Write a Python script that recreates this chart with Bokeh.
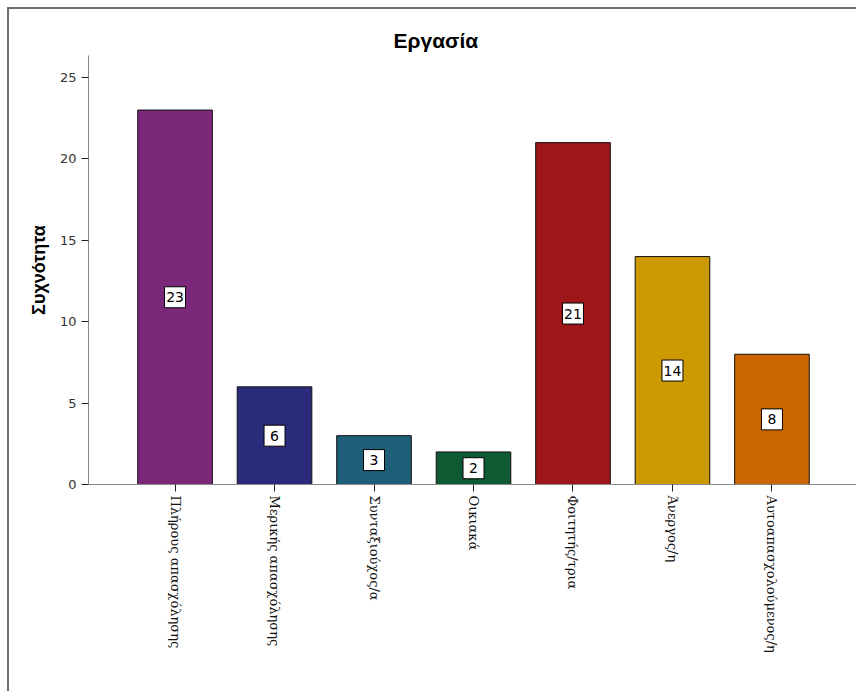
import math
from bokeh.plotting import figure
from bokeh.models import ColumnDataSource, FactorRange, Range1d, FixedTicker, Title
from bokeh.core.properties import value
from bokeh.embed import file_html
from bokeh.resources import INLINE

categories = ["Πλήρους απασχόλησης", "Μερικής απασχόλησης", "Συνταξιούχος/α", "Οικιακά",
              "Φοιτητής/τρια", "Άνεργος/η", "Αυτοαπασχολούμενος/η"]
counts = [23, 6, 3, 2, 21, 14, 8]
colors = ["#7B287B", "#2A2B7A", "#1E5E78", "#0D5A33", "#9E161A", "#CC9900", "#CC6600"]
y_ticks = [0, 5, 10, 15, 20, 25]

source = ColumnDataSource(dict(
    cat=categories,
    count=counts,
    color=colors,
    mid=[c / 2 for c in counts],
    label=[str(c) for c in counts],
))

p = figure(
    x_range=FactorRange(factors=categories, range_padding=0.37, range_padding_units="absolute"),
    y_range=Range1d(0, 26.35),
    width=849, height=684,
    output_backend="svg", toolbar_location=None,
    min_border_left=79, min_border_right=0, min_border_top=46, min_border_bottom=209,
)
p.styles = {"border-left": "2px solid #6e6e6e", "border-top": "2px solid #6e6e6e",
            "margin-left": "7px", "margin-top": "7px"}

p.title = Title(text="Εργασία", align="left", offset=305, text_font="Liberation Sans",
                text_font_size="21px", text_font_style="bold", text_color="#000000", standoff=7)

p.vbar(x="cat", top="count", width=0.75, source=source, fill_color="color",
       line_color="#111111", line_width=1)

p.rect(x="cat", y="mid", width=21, height=21, width_units="screen", height_units="screen",
       source=source, fill_color="#ffffff", line_color="#000000", line_width=1)
p.text(x="cat", y="mid", text="label", source=source, text_align="center",
       text_baseline="middle", text_font=value("DejaVu Sans"), text_font_size="14px",
       text_color="#000000")

p.xgrid.visible = False
p.ygrid.visible = False
p.outline_line_color = None

p.yaxis.ticker = FixedTicker(ticks=y_ticks)
p.yaxis.axis_label = "Συχνότητα"
p.yaxis.axis_label_text_font = "Liberation Sans"
p.yaxis.axis_label_text_font_size = "18px"
p.yaxis.axis_label_text_font_style = "bold"
p.yaxis.axis_label_text_color = "#000000"
p.yaxis.axis_label_standoff = 8
p.yaxis.major_label_text_font = "DejaVu Sans"
p.yaxis.major_label_text_font_size = "13px"
p.yaxis.major_label_text_color = "#333333"
p.yaxis.minor_tick_line_color = None
p.yaxis.major_tick_out = 7
p.yaxis.major_tick_in = 0
p.yaxis.major_tick_line_color = "#222222"
p.yaxis.axis_line_color = "#888888"

p.xaxis.major_label_orientation = -math.pi / 2
p.xaxis.major_label_text_font = "DejaVu Serif"
p.xaxis.major_label_text_font_size = "13px"
p.xaxis.major_label_text_color = "#111111"
p.xaxis.major_tick_out = 7
p.xaxis.major_tick_in = 0
p.xaxis.major_tick_line_color = "#222222"
p.xaxis.axis_line_color = "#888888"
p.xaxis.major_label_standoff = 4

open("out.html", "w").write(file_html(p, INLINE))
